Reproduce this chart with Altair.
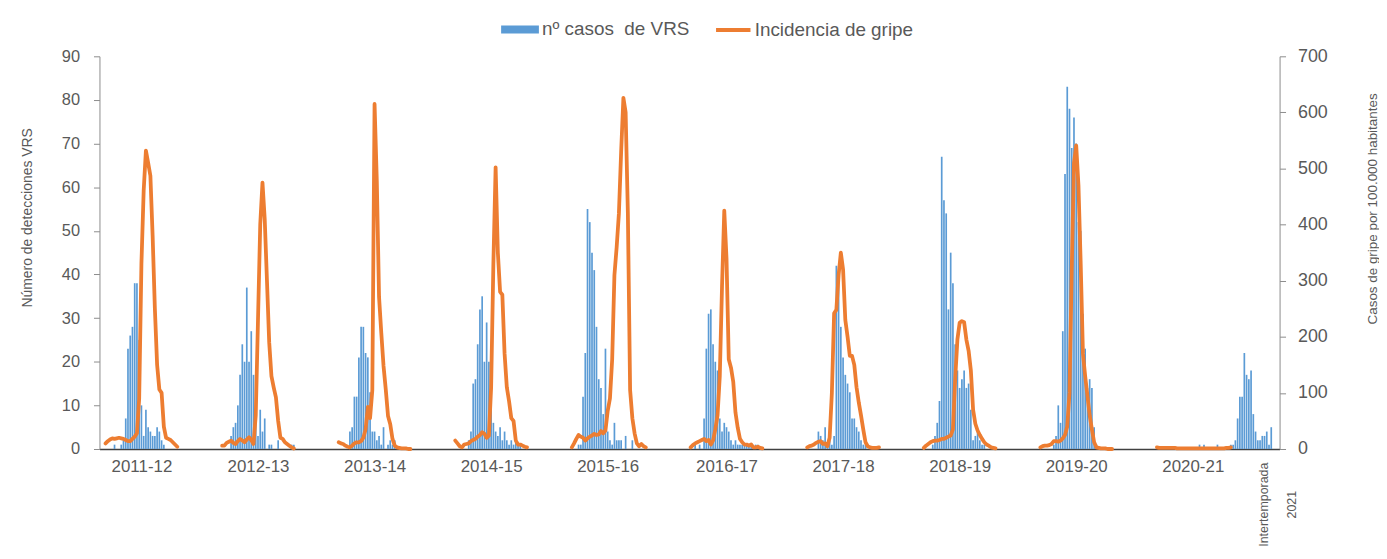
import altair as alt
import pandas as pd

# ---------------- data ----------------
season_labels = ["2011-12", "2012-13", "2013-14", "2014-15", "2015-16",
                 "2016-17", "2017-18", "2018-19", "2019-20", "2020-21"]
# first week slot (week 40) of each season on the weekly axis
season_start = [0, 52, 104, 156, 208, 261, 313, 365, 417, 469]
inter_label = "Intertemporada\n2021"
inter_start = 503  # week 21 of 2021

# nº casos de VRS (weekly, from week 40)
vrs_2011_12 = [0,0,0,0,1,0,0,1,2,7,23,26,28,38,38,25,10,3,9,5,4,3,3,5,4,2,1,0,0,0,0,0,0]
vrs_2012_13 = [0,0,0,0,3,5,6,10,17,24,20,37,20,27,17,7,3,9,4,7,0,1,1,0,0,2,0,0,0,0,0,1,1]
vrs_2013_14 = [0,0,0,0,0,4,5,12,12,21,28,28,22,21,13,4,4,2,3,1,5,0,1,2,1,2,0,0,0,0,0,0,0]
vrs_2014_15 = [0,0,0,0,0,0,2,4,15,16,24,32,35,20,29,20,15,6,4,3,5,2,4,2,1,2,1,2,1,1,0,0,0]
vrs_2015_16 = [0,0,0,1,1,12,22,55,52,45,41,28,16,14,8,23,4,2,1,6,2,2,2,0,3,0,0,2,0,0,0,0,0,0]
vrs_2016_17 = [0,0,1,0,1,0,7,23,31,32,24,20,18,7,4,6,5,4,2,1,2,1,1,1,1,1,1,1,0,1,1,0,0]
vrs_2017_18 = [0,0,0,0,0,4,3,2,5,1,2,1,3,42,40,28,21,17,15,13,7,7,5,4,2,1,1,0,0,0,0,0,0]
vrs_2018_19 = [0,0,0,0,1,3,6,11,67,57,54,32,45,38,24,18,14,16,18,14,15,9,2,3,4,2,1,1,0,0,0,0,0]
vrs_2019_20 = [0,0,0,0,0,0,1,3,10,6,27,63,83,78,69,76,70,52,50,31,23,14,16,14,5,1,0,0,0,0,0,0,0]
vrs_2020_21 = [0,0,0,0,0,0,0,0,0,0,0,0,0,0,0,0,0,0,0,1,0,1,0,0,0,0,0,1,0,0,0,0,0,1]
vrs_inter_2021 = [1,2,7,12,12,22,17,16,18,8,4,2,2,3,3,4,1,5,0]

# Incidencia de gripe (casos por 100.000 habitantes, weekly from week 40)
flu_2011_12 = [10,14,17,19,18,19,20,19,18,16,14,14,18,22,28,90,330,460,532,510,487,380,250,150,106,100,40,20,18,16,12,8,4]
flu_2012_13 = [6,6,11,13,15,11,9,14,18,15,12,17,21,16,9,60,230,400,475,410,300,190,130,110,92,50,20,18,12,9,6,3,1]
flu_2013_14 = [12,10,9,6,4,3,6,10,12,12,14,20,35,75,55,105,615,478,271,207,148,106,59,44,18,6,3,2,1,1,1,0,0]
flu_2014_15 = [15,10,5,3,8,9,10,14,16,18,22,25,30,27,20,24,110,330,502,350,280,275,170,110,85,55,50,15,8,8,6,4,3]
flu_2015_16 = [3,10,18,25,22,20,15,19,22,24,27,25,26,32,28,33,68,90,160,310,360,420,530,626,600,420,105,55,28,10,5,9,5,3]
flu_2016_17 = [3,7,10,12,14,16,18,14,16,8,15,35,60,130,290,425,340,160,145,120,65,38,18,12,8,8,6,8,3,3,4,2,1]
flu_2017_18 = [3,5,6,8,11,13,14,9,10,5,20,100,242,248,310,350,320,230,200,166,166,150,110,83,60,35,12,5,3,2,2,2,3]
flu_2018_19 = [2,6,9,12,14,15,15,16,18,18,20,22,24,35,124,195,225,228,226,195,175,140,70,45,33,25,18,12,8,6,3,2,1]
flu_2019_20 = [3,5,6,6,7,9,14,14,13,15,19,25,40,100,320,510,541,470,330,170,130,95,60,35,12,3,2,1,1,1,0,0,0]
flu_2020_21 = [3,2,2,2,2,2,2,2,2,1,1,1,1,1,1,1,1,1,1,1,1,1,1,1,1,1,1,1,1,1,1,2,2,3]

vrs_series = [vrs_2011_12, vrs_2012_13, vrs_2013_14, vrs_2014_15, vrs_2015_16,
              vrs_2016_17, vrs_2017_18, vrs_2018_19, vrs_2019_20, vrs_2020_21]
flu_series = [flu_2011_12, flu_2012_13, flu_2013_14, flu_2014_15, flu_2015_16,
              flu_2016_17, flu_2017_18, flu_2018_19, flu_2019_20, flu_2020_21]

BAR_NAME = "nº casos\u00a0 de VRS"
LINE_NAME = "Incidencia de gripe"
BLUE = "#5B9BD5"
ORANGE = "#ED7D31"
GREY_TXT = "#595959"
GREY_AX = "#8C8C8C"

bar_rows, line_rows = [], []
for lab, s0, vs, fs in zip(season_labels, season_start, vrs_series, flu_series):
    for i, v in enumerate(vs):
        bar_rows.append({"slot": s0 + i, "vrs": v, "serie": BAR_NAME})
    for i, v in enumerate(fs):
        line_rows.append({"slot": s0 + i, "flu": v, "season": lab, "serie": LINE_NAME})
for i, v in enumerate(vrs_inter_2021):
    bar_rows.append({"slot": inter_start + i, "vrs": v, "serie": BAR_NAME})

bars_df = pd.DataFrame(bar_rows)
line_df = pd.DataFrame(line_rows)

label_slots = [s + 16 for s in season_start]
text_df = pd.DataFrame({"slot": [inter_start + 14], "label": [inter_label]})

N_SLOTS = inter_start + len(vrs_inter_2021)
xscale = alt.Scale(domain=[-0.5, N_SLOTS - 0.5], nice=False, zero=False)

FONT = "Liberation Sans, Arial, sans-serif"

label_expr = "[" + ",".join("'%s'" % s for s in season_labels) + "][indexof([" + \
    ",".join(str(v) for v in label_slots) + "], datum.value)]"

x_axis = alt.Axis(values=label_slots, labelExpr=label_expr, ticks=False, grid=False,
                  domainColor="#404040", domainWidth=1.5, labelColor=GREY_TXT,
                  labelFontSize=17, labelFont=FONT, labelPadding=10, title=None,
                  labelOverlap=False, labelFlush=False)

bars = alt.Chart(bars_df).mark_bar(size=1.7).encode(
    x=alt.X("slot:Q", scale=xscale, axis=x_axis),
    y=alt.Y("vrs:Q", scale=alt.Scale(domain=[0, 90], nice=False),
            axis=alt.Axis(values=list(range(0, 91, 10)), grid=False, title="Número de detecciones VRS",
                          titleFont=FONT, titleFontSize=14, titleFontWeight="normal",
                          titleColor=GREY_TXT, titleX=-72, titleY=162, titleAngle=270,
                          titleBaseline="middle", titleAlign="center",
                          labelColor=GREY_TXT, labelFontSize=16.5, labelFont=FONT, labelPadding=14,
                          tickSize=6, tickColor=GREY_AX, domainColor=GREY_AX)),
    fill=alt.Fill("serie:N", scale=alt.Scale(domain=[BAR_NAME], range=[BLUE]),
                  legend=alt.Legend(title=None, orient="none", legendX=404, legendY=-46,
                                    symbolType="M-1,-0.21H1V0.21H-1Z", symbolSize=1444,
                                    labelFontSize=19, labelFont=FONT, labelColor=GREY_TXT,
                                    symbolStrokeWidth=0, labelOffset=3)),
)

line = alt.Chart(line_df).mark_line(strokeWidth=3.8, strokeJoin="round", strokeCap="round").encode(
    x=alt.X("slot:Q", scale=xscale, axis=x_axis),
    y=alt.Y("flu:Q", scale=alt.Scale(domain=[0, 700], nice=False),
            axis=alt.Axis(orient="right", values=list(range(0, 701, 100)), grid=False,
                          title="Casos de gripe por 100.000 habitantes",
                          titleFont=FONT, titleFontSize=13.5, titleFontWeight="normal",
                          titleColor=GREY_TXT, titleX=93, titleY=153, titleAngle=270,
                          titleBaseline="middle", titleAlign="center",
                          labelColor=GREY_TXT, labelFontSize=18, labelFont=FONT, labelPadding=12,
                          tickSize=6, tickColor=GREY_AX, domainColor=GREY_AX)),
    stroke=alt.Stroke("serie:N", scale=alt.Scale(domain=[LINE_NAME], range=[ORANGE]),
                      legend=alt.Legend(title=None, orient="none", legendX=618, legendY=-46,
                                        symbolType="stroke", symbolSize=1200, symbolStrokeWidth=4,
                                        labelFontSize=19, labelFont=FONT, labelColor=GREY_TXT,
                                        labelOffset=2)),
    detail="season:N",
)

text = alt.Chart(text_df).mark_text(angle=270, lineBreak="\n", lineHeight=28, align="center",
                                    baseline="middle", font=FONT, fontSize=12.5,
                                    color=GREY_TXT).encode(
    x=alt.X("slot:Q", scale=xscale, axis=x_axis),
    y=alt.value(451),
    text="label:N",
)

chart = alt.layer(bars, line, text).resolve_scale(
    y="independent", fill="independent", stroke="independent"
).properties(
    width=1187, height=395,
    autosize=alt.AutoSizeParams(type="none"),
    padding={"left": 92, "top": 47, "right": 100, "bottom": 101},
    background="white",
).configure_view(stroke=None)

chart.save("out.html", embed_options={"renderer": "svg", "actions": False})
